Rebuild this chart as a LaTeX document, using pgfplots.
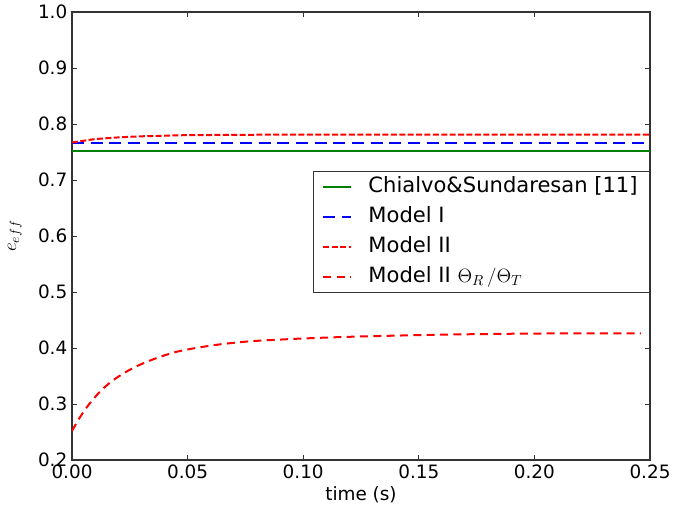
\documentclass[border=0pt]{standalone}
\usepackage{pgfplots}
\pgfplotsset{compat=1.18}
\usepackage{fontspec}
\setmainfont{DejaVu Sans}
\definecolor{mplgreen}{rgb}{0,0.5,0}

\begin{document}
\begin{tikzpicture}
\begin{axis}[
    scale only axis,
    width=433.5pt, height=336pt,
    xmin=0, xmax=0.25, ymin=0.2, ymax=1.0,
    xtick={0,0.05,...,0.25},
    ytick={0.2,0.3,...,1.0},
    xticklabel style={/pgf/number format/.cd,fixed,fixed zerofill,precision=2},
    yticklabel style={/pgf/number format/.cd,fixed,fixed zerofill,precision=1},
    /pgf/number format/assume math mode=true,
    tick align=inside,
    major tick length=4pt,
    tick style={black!80, line width=0.6pt},
    axis line style={black!80, line width=0.8pt},
    font=\fontsize{13.8}{16}\selectfont,
    xlabel={time (s)},
    xlabel style={at={(axis description cs:0.5,0)}, anchor=center, yshift=-26pt},
    ylabel={$e_{eff}$},
    ylabel style={at={(axis description cs:-0.099,0.5)}, anchor=center},
    legend cell align=left,
    legend style={at={(axis description cs:1,0.646)}, anchor=north east,
        draw=black!80, line width=0.6pt,
        font=\fontsize{15.8}{19}\selectfont,
        inner xsep=7pt, inner ysep=2pt,
        row sep=3pt, column sep=10pt,
        nodes={inner xsep=2pt, inner ysep=2pt, text height=12pt, text depth=3.5pt}},
    legend image code/.code={\draw[#1] (0pt,0pt) -- (21pt,0pt);},
]
\coordinate (bl) at (rel axis cs:0,0);
\coordinate (tr) at (rel axis cs:1,1);
\addplot[mplgreen, line width=1.5pt] coordinates {(0,0.751) (0.25,0.751)};
\addlegendentry{Chialvo\&Sundaresan [11]}
\addplot[blue, line width=1.5pt, dash pattern=on 9pt off 5pt] coordinates {(0,0.766) (0.25,0.766)};
\addlegendentry{Model I}
\addplot[red, line width=1.5pt, dash pattern=on 4.5pt off 1.8pt, smooth] coordinates {
(0,0.767) (0.005,0.770) (0.01,0.773) (0.02,0.776) (0.03,0.778) (0.04,0.779)
(0.05,0.780) (0.1,0.781) (0.25,0.781)};
\addlegendentry{Model II}
\addplot[red, line width=1.5pt, dash pattern=on 6pt off 4pt, smooth] coordinates {
(0,0.252) (0.0034,0.276) (0.0071,0.298) (0.0121,0.322) (0.017,0.340)
(0.0228,0.356) (0.0293,0.370) (0.0366,0.382) (0.045,0.393) (0.055,0.401)
(0.065,0.407) (0.077,0.412) (0.09,0.415) (0.10,0.417) (0.12,0.420)
(0.15,0.423) (0.18,0.425) (0.21,0.426) (0.246,0.426)};
\addlegendentry{Model II $\Theta_R\,/\Theta_T$}
\end{axis}
\pgfresetboundingbox
\path ([xshift=-54pt,yshift=-36.75pt]bl) rectangle ([xshift=26.25pt,yshift=9pt]tr);
\end{tikzpicture}
\end{document}
